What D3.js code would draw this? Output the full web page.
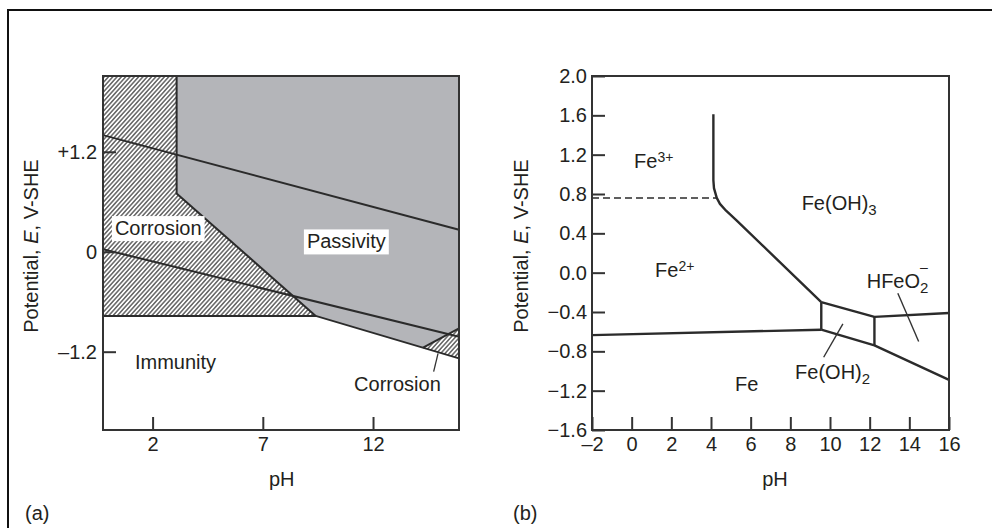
<!DOCTYPE html>
<html>
<head>
<meta charset="utf-8">
<script src="https://cdn.jsdelivr.net/npm/d3@7"></script>
<style>
  body { margin: 0; background: #fff; }
  text { font-family: "Liberation Sans", Arial, sans-serif; fill: #231f20; }
</style>
</head>
<body>
<div id="chart"></div>
<script>
// ---- panel (a) data: simplified Pourbaix diagram (pH, E in V-SHE)
var phTicksA = [2, 7, 12];
var eTicksA = [1.2, 0, -1.2];
var eTickLabelsA = ["+1.2", "0", "\u20131.2"];
var passivityRegion = [[3.09, 2.11], [3.09, 0.70], [9.4, -0.77], [14.27, -1.15], [15.9, -0.92], [15.9, 2.11]];
var corrosionLeft = [[-0.25, 2.11], [3.09, 2.11], [3.09, 0.70], [9.4, -0.77], [-0.25, -0.77]];
var corrosionRight = [[14.27, -1.15], [15.9, -0.92], [15.9, -1.28]];
var oxygenLineA = [[-0.25, 1.40], [15.9, 0.265]];
var hydrogenLineA = [[-0.25, 0.03], [15.9, -1.02]];
var passiveEdgeA = [[3.09, 2.11], [3.09, 0.70], [9.4, -0.77]];
var immunityEdgeA = [[-0.25, -0.77], [9.4, -0.77], [15.9, -1.28]];
var rightHatchEdgeA = [[14.27, -1.15], [15.9, -0.92]];
var pointerA = [[14.95, -1.22], [14.75, -1.44]];
var labelsA = [
  {text: "Corrosion", ph: 0.29, e: 0.20, box: true},
  {text: "Passivity", ph: 9.0, e: 0.04, box: true},
  {text: "Immunity", ph: 1.2, e: -1.41},
  {text: "Corrosion", ph: 11.14, e: -1.67}
];

// ---- panel (b) data: Fe-H2O Pourbaix diagram
var phTicksB = [-2, 0, 2, 4, 6, 8, 10, 12, 14, 16];
var eTicksB = [2.0, 1.6, 1.2, 0.8, 0.4, 0.0, -0.4, -0.8, -1.2, -1.6];
var fe3Boundary = [[4.12, 1.61], [4.12, 0.94], [4.15, 0.86], [4.29, 0.76], [4.45, 0.70], [4.76, 0.63], [5.30, 0.53], [9.56, -0.30]];
var fe3fe2Dashed = [[-2, 0.76], [4.29, 0.76]];
var fe2FeLine = [[-2, -0.635], [9.56, -0.58]];
var hydroxideUpper = [[9.56, -0.30], [12.24, -0.45], [16, -0.41]];
var hydroxideLower = [[9.56, -0.58], [12.24, -0.74], [16, -1.09]];
var hydroxideLeft = [[9.56, -0.30], [9.56, -0.58]];
var hydroxideRight = [[12.24, -0.45], [12.24, -0.74]];
var pointerHFeO2 = [[13.42, -0.21], [14.47, -0.70]];
var pointerFeOH2 = [[10.65, -0.52], [9.68, -0.86]];

var fontSize = 20;

var svg = d3.select("#chart")
  .append("svg")
    .attr("width", 992)
    .attr("height", 528);

// hatch pattern
var defs = svg.append("defs");
defs.append("pattern")
    .attr("id", "hatch")
    .attr("patternUnits", "userSpaceOnUse")
    .attr("width", 3.2)
    .attr("height", 3.2)
    .attr("patternTransform", "rotate(42)")
  .append("line")
    .attr("x1", 0.8).attr("y1", 0)
    .attr("x2", 0.8).attr("y2", 3.2)
    .attr("stroke", "#2a2a2a")
    .attr("stroke-width", 1.1);

// outer frame (top and left only)
svg.append("path")
    .attr("d", "M8,528V10H992")
    .attr("fill", "none")
    .attr("stroke", "#111")
    .attr("stroke-width", 2);

// ---------------- panel (a)
var xA = d3.scaleLinear().domain([-0.25, 15.9]).range([103, 459]);
var yA = d3.scaleLinear().domain([-2.14, 2.11]).range([430, 76]);
var lineA = d3.line().x(function(d) { return xA(d[0]); }).y(function(d) { return yA(d[1]); });

var gA = svg.append("g");

gA.append("path").datum(passivityRegion)
    .attr("d", function(d) { return lineA(d) + "Z"; })
    .attr("fill", "#b4b5b9");
gA.append("path").datum(corrosionLeft)
    .attr("d", function(d) { return lineA(d) + "Z"; })
    .attr("fill", "url(#hatch)");
gA.append("path").datum(corrosionRight)
    .attr("d", function(d) { return lineA(d) + "Z"; })
    .attr("fill", "url(#hatch)");

[oxygenLineA, hydrogenLineA, passiveEdgeA, immunityEdgeA, rightHatchEdgeA].forEach(function(l) {
  gA.append("path").datum(l)
    .attr("d", lineA)
    .attr("fill", "none")
    .attr("stroke", "#2b2b2b")
    .attr("stroke-width", 2);
});
gA.append("path").datum(pointerA)
    .attr("d", lineA)
    .attr("fill", "none")
    .attr("stroke", "#333")
    .attr("stroke-width", 1.3);

// frame
gA.append("rect")
    .attr("x", xA.range()[0]).attr("y", yA.range()[1])
    .attr("width", xA.range()[1] - xA.range()[0])
    .attr("height", yA.range()[0] - yA.range()[1])
    .attr("fill", "none")
    .attr("stroke", "#333")
    .attr("stroke-width", 2);

// axes with inward ticks
gA.append("g")
    .attr("transform", "translate(0," + yA.range()[0] + ")")
    .style("font-size", fontSize + "px")
    .call(d3.axisBottom(xA).tickValues(phTicksA).tickSizeInner(-13).tickSizeOuter(0).tickPadding(7))
    .call(function(g) { g.select(".domain").remove(); })
    .call(function(g) { g.selectAll("line").attr("stroke", "#333").attr("stroke-width", 2); })
    .call(function(g) { g.selectAll("text").attr("fill", "#231f20").style("font-family", "Liberation Sans, Arial, sans-serif"); });

gA.append("g")
    .attr("transform", "translate(" + xA.range()[0] + ",0)")
    .style("font-size", fontSize + "px")
    .call(d3.axisLeft(yA).tickValues(eTicksA).tickFormat(function(d, i) { return eTickLabelsA[i]; })
      .tickSizeInner(-13).tickSizeOuter(0).tickPadding(6))
    .call(function(g) { g.select(".domain").remove(); })
    .call(function(g) { g.selectAll("line").attr("stroke", "#333").attr("stroke-width", 2); })
    .call(function(g) { g.selectAll("text").attr("fill", "#231f20").style("font-family", "Liberation Sans, Arial, sans-serif"); });

// region labels
labelsA.forEach(function(l) {
  var t = gA.append("text")
    .attr("x", xA(l.ph))
    .attr("y", yA(l.e))
    .style("font-size", fontSize + "px")
    .text(l.text);
  if (l.box) {
    var bb = t.node().getBBox();
    gA.insert("rect", function() { return t.node(); })
      .attr("x", bb.x - 3).attr("y", bb.y - 1)
      .attr("width", bb.width + 6).attr("height", bb.height + 3)
      .attr("fill", "#fff");
  }
});

gA.append("text")
    .attr("x", 281.7).attr("y", 486)
    .attr("text-anchor", "middle")
    .style("font-size", fontSize + "px")
    .text("pH");
gA.append("text")
    .attr("x", 25).attr("y", 520)
    .style("font-size", fontSize + "px")
    .text("(a)");

function yLabel(g, x) {
  var t = g.append("text")
    .attr("transform", "translate(" + x + ",246) rotate(-90)")
    .attr("text-anchor", "middle")
    .style("font-size", fontSize + "px");
  t.append("tspan").text("Potential, ");
  t.append("tspan").style("font-style", "italic").text("E");
  t.append("tspan").text(", V-SHE");
}
yLabel(gA, 38);

// ---------------- panel (b)
var xB = d3.scaleLinear().domain([-2, 16]).range([592, 949]);
var yB = d3.scaleLinear().domain([-1.6, 2.0]).range([430, 76]);
var lineB = d3.line().x(function(d) { return xB(d[0]); }).y(function(d) { return yB(d[1]); });

var gB = svg.append("g");

[fe3Boundary, fe2FeLine, hydroxideUpper, hydroxideLower, hydroxideLeft, hydroxideRight].forEach(function(l) {
  gB.append("path").datum(l)
    .attr("d", lineB)
    .attr("fill", "none")
    .attr("stroke", "#2b2b2b")
    .attr("stroke-width", 2.4)
    .attr("stroke-linejoin", "round");
});
gB.append("path").datum(fe3fe2Dashed)
    .attr("d", lineB)
    .attr("fill", "none")
    .attr("stroke", "#2b2b2b")
    .attr("stroke-width", 1.5)
    .attr("stroke-dasharray", "7,4");
[pointerHFeO2, pointerFeOH2].forEach(function(l) {
  gB.append("path").datum(l)
    .attr("d", lineB)
    .attr("fill", "none")
    .attr("stroke", "#333")
    .attr("stroke-width", 1.4);
});

gB.append("rect")
    .attr("x", xB.range()[0]).attr("y", yB.range()[1])
    .attr("width", xB.range()[1] - xB.range()[0])
    .attr("height", yB.range()[0] - yB.range()[1])
    .attr("fill", "none")
    .attr("stroke", "#333")
    .attr("stroke-width", 2);

var fmtMinus = function(s) { return s.replace("-", "\u2013"); };

gB.append("g")
    .attr("transform", "translate(0," + yB.range()[0] + ")")
    .style("font-size", fontSize + "px")
    .call(d3.axisBottom(xB).tickValues(phTicksB).tickFormat(function(d) { return fmtMinus(String(d)); })
      .tickSizeInner(-13).tickSizeOuter(0).tickPadding(7))
    .call(function(g) { g.select(".domain").remove(); })
    .call(function(g) { g.selectAll("line").attr("stroke", "#333").attr("stroke-width", 2); })
    .call(function(g) { g.selectAll("text").attr("fill", "#231f20").style("font-family", "Liberation Sans, Arial, sans-serif"); });

gB.append("g")
    .attr("transform", "translate(" + xB.range()[0] + ",0)")
    .style("font-size", fontSize + "px")
    .call(d3.axisLeft(yB).tickValues(eTicksB).tickFormat(function(d) { return fmtMinus(d3.format(".1f")(d)); })
      .tickSizeInner(-13).tickSizeOuter(0).tickPadding(5))
    .call(function(g) { g.select(".domain").remove(); })
    .call(function(g) { g.selectAll("line").attr("stroke", "#333").attr("stroke-width", 2); })
    .call(function(g) { g.selectAll("text").attr("fill", "#231f20").style("font-family", "Liberation Sans, Arial, sans-serif"); });

// species labels
function species(ph, e, parts) {
  var t = gB.append("text")
    .attr("x", xB(ph)).attr("y", yB(e))
    .style("font-size", fontSize + "px");
  parts.forEach(function(p) {
    var s = t.append("tspan").text(p.t);
    if (p.sup) s.style("font-size", "14px").attr("dy", -6);
    if (p.sub) s.style("font-size", "15px").attr("dy", 5);
    if (p.dx) s.attr("dx", p.dx);
    if (p.dy !== undefined) s.attr("dy", p.dy);
  });
  return t;
}
species(0.12, 1.06, [{t: "Fe"}, {t: "3+", sup: true}]);
species(1.18, -0.04, [{t: "Fe"}, {t: "2+", sup: true}]);
species(8.57, 0.64, [{t: "Fe(OH)"}, {t: "3", sub: true}]);
species(11.85, -0.16, [{t: "HFeO"}, {t: "2", sub: true}, {t: "\u2013", sup: true, dx: -8.5, dy: -21}]);
species(8.24, -1.08, [{t: "Fe(OH)"}, {t: "2", sub: true}]);
species(5.21, -1.20, [{t: "Fe"}]);

gB.append("text")
    .attr("x", 775).attr("y", 486)
    .attr("text-anchor", "middle")
    .style("font-size", fontSize + "px")
    .text("pH");
gB.append("text")
    .attr("x", 513).attr("y", 520)
    .style("font-size", fontSize + "px")
    .text("(b)");
yLabel(gB, 528);
</script>
</body>
</html>
